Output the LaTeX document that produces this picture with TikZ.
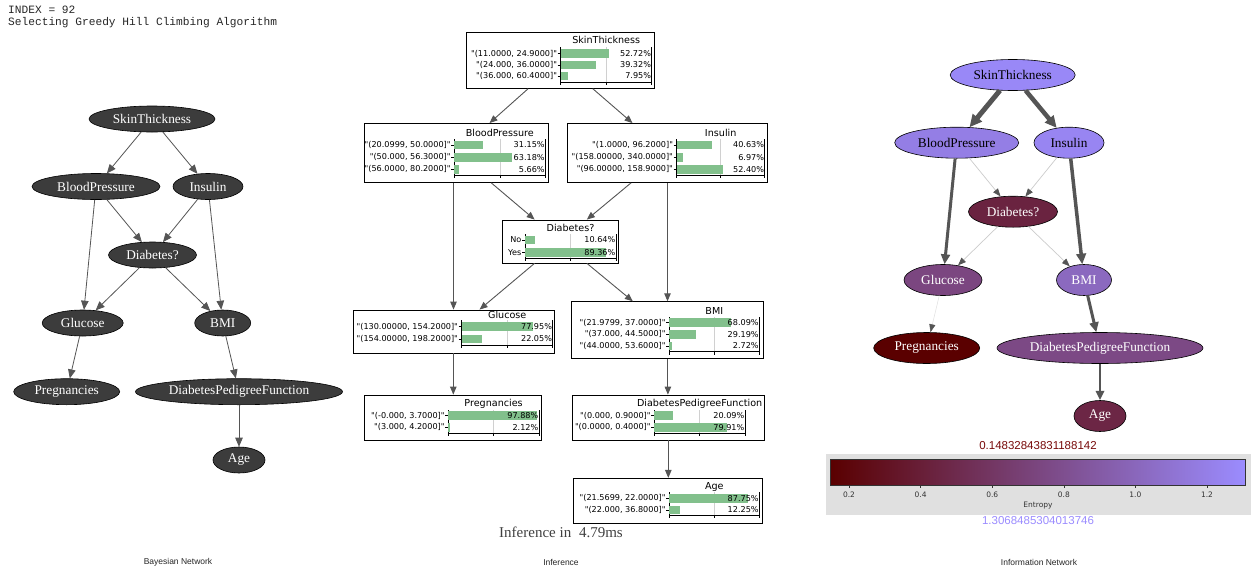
\documentclass[tikz,border=0pt]{standalone}
\usepackage{fontspec}
\setmainfont{Liberation Serif}
\newfontfamily\plotfont{DejaVu Sans}
\newfontfamily\captfont{Liberation Sans}
\newfontfamily\logfont{Liberation Mono}
\usepackage{tikz}
\usetikzlibrary{shapes.geometric, arrows.meta, calc, positioning}
\definecolor{netgray}{HTML}{3C3C3C}
\definecolor{edgegray}{HTML}{555555}
\definecolor{thingray}{HTML}{CCCCCC}
\definecolor{bargreen}{HTML}{82C08C}
\definecolor{gridgray}{HTML}{D0D0D0}
\definecolor{entlow}{RGB}{90,0,0}
\definecolor{enthigh}{RGB}{155,140,255}
\definecolor{cbarback}{HTML}{E0E0E0}
\definecolor{minred}{RGB}{120,10,10}

% one bar of a marginal: name, axis x, y, label, percent, axis width
\newcommand{\barrow}[6]{%
	\fill[bargreen] (#2,#3-4.3) rectangle ++(#5*#6/100,8.6);
	\draw[axisline] (#2-3,#3) -- (#2,#3);
	\node[plotlabel, anchor=east] (#1-l) at (#2-3.5,#3) {#4};
	\node[plotlabel, anchor=east] (#1-p) at (#2+#6-0.5,#3) {#5\%};
}
% frame of a marginal: axis x, top, bottom, axis width
\newcommand{\barframe}[4]{%
	\draw[gridgray, line width=0.6pt] (#1+#4/2,#2) -- (#1+#4/2,#3);
	\draw[axisline] (#1,#2) -- (#1,#3) -- (#1+#4,#3) -- (#1+#4,#2);
	\draw[axisline] (#1,#3) -- ++(0,3) (#1+#4/2,#3) -- ++(0,3) (#1+#4,#3) -- ++(0,3);
}

\begin{document}
\begin{tikzpicture}[x=1pt, y=-1pt,
	bnnode/.style={ellipse, draw=black, line width=0.6pt, fill=netgray, text=white, inner sep=0pt, minimum height=26pt, font=\fontsize{13.3}{15}\selectfont},
	bnedge/.style={draw=edgegray, line width=0.8pt, -{Triangle[length=9pt, width=7.5pt]}},
	margbox/.style={draw=black, line width=0.8pt, inner sep=0pt},
	margedge/.style={draw=edgegray, line width=0.9pt, -{Triangle[length=8pt, width=6.5pt]}},
	axisline/.style={draw=black, line width=0.6pt},
	plotlabel/.style={inner sep=0pt, font=\plotfont\fontsize{8.1}{9}\selectfont},
	plottitle/.style={inner sep=0pt, font=\plotfont\fontsize{9.6}{11}\selectfont},
	entnode/.style={ellipse, draw=black, line width=0.6pt, inner sep=0pt, minimum height=31pt, font=\fontsize{13.3}{15}\selectfont, fill=enthigh!#1!entlow},
	entstrong/.style={draw=edgegray, line width=#1, -{Triangle[length=6pt 1.3, width=5pt 1.3]}},
	entweak/.style={draw=thingray, line width=0.7pt, -{Triangle[length=8pt, width=6pt, color=edgegray]}},
	captext/.style={inner sep=0pt, font=\captfont\fontsize{8.5}{10}\selectfont, text=black!85},
	logtext/.style={anchor=west, inner sep=0pt, font=\logfont\fontsize{11.2}{13}\selectfont, text=black!85},
	cbtext/.style={inner sep=0pt, font=\plotfont\fontsize{7.5}{9}\selectfont, text=black!80}
]
\path[use as bounding box, fill=white] (0,0) rectangle (1251,568);

% log lines
\node[logtext] (idx) at (8,9.5) {INDEX = 92};
\node[logtext] (algo) at (8,22.5) {Selecting Greedy Hill Climbing Algorithm};

% Bayesian network
\node[bnnode, minimum width=126pt] (bst) at (152,119) {SkinThickness};
\node[bnnode, minimum width=128pt] (bbp) at (96,186.5) {BloodPressure};
\node[bnnode, minimum width=70pt] (bins) at (208,186.5) {Insulin};
\node[bnnode, minimum width=88pt] (bdia) at (152.5,255) {Diabetes?};
\node[bnnode, minimum width=81pt] (bglu) at (82.7,323) {Glucose};
\node[bnnode, minimum width=56pt] (bbmi) at (222.7,323) {BMI};
\node[bnnode, minimum width=106pt] (bpre) at (66.7,391.7) {Pregnancies};
\node[bnnode, minimum width=207pt] (bdpf) at (239,391.7) {DiabetesPedigreeFunction};
\node[bnnode, minimum width=52pt] (bage) at (239,460) {Age};
\draw[bnedge] (bst) -- (bbp);
\draw[bnedge] (bst) -- (bins);
\draw[bnedge] (bbp) -- (bdia);
\draw[bnedge] (bins) -- (bdia);
\draw[bnedge] (bbp) -- (bglu);
\draw[bnedge] (bins) -- (bbmi);
\draw[bnedge] (bdia) -- (bglu);
\draw[bnedge] (bdia) -- (bbmi);
\draw[bnedge] (bglu) -- (bpre);
\draw[bnedge] (bbmi) -- (bdpf);
\draw[bnedge] (bdpf) -- (bage);
\node[captext] (capbn) at (178,562) {Bayesian Network};

% inference boxes
\node[margbox, minimum width=188pt, minimum height=56pt] (st) at (560,60.3) {};
\node[margbox, minimum width=184pt, minimum height=59pt] (bp) at (456,153) {};
\node[margbox, minimum width=200pt, minimum height=59pt] (ins) at (667,153) {};
\node[margbox, minimum width=116pt, minimum height=43pt] (dia) at (560.5,241.5) {};
\node[margbox, minimum width=201pt, minimum height=43pt] (glu) at (453.5,331.5) {};
\node[margbox, minimum width=192pt, minimum height=56.6pt] (bmi) at (667.5,330) {};
\node[margbox, minimum width=177pt, minimum height=45pt] (pre) at (453.3,417.5) {};
\node[margbox, minimum width=192pt, minimum height=45pt] (dpf) at (667.9,417.5) {};
\node[margbox, minimum width=189pt, minimum height=45pt] (age) at (668.3,500.8) {};

\barframe{560.7}{47}{82}{91}
\node[plottitle] (st-t) at (606.2,40) {SkinThickness};
\barrow{st1}{560.7}{53.5}{"(11.0000, 24.9000]"}{52.72}{91}
\barrow{st2}{560.7}{64.8}{"(24.000, 36.0000]"}{39.32}{91}
\barrow{st3}{560.7}{76}{"(36.000, 60.4000]"}{7.95}{91}

\barframe{454.3}{139}{175}{91}
\node[plottitle] (bp-t) at (499.8,133) {BloodPressure};
\barrow{bp1}{454.3}{145}{"(20.0999, 50.0000]"}{31.15}{91}
\barrow{bp2}{454.3}{157.3}{"(50.000, 56.3000]"}{63.18}{91}
\barrow{bp3}{454.3}{169.3}{"(56.0000, 80.2000]"}{5.66}{91}

\barframe{676.7}{139}{175}{88}
\node[plottitle] (ins-t) at (720.7,133) {Insulin};
\barrow{ins1}{676.7}{145}{"(1.0000, 96.2000]"}{40.63}{88}
\barrow{ins2}{676.7}{157.3}{"(158.00000, 340.0000]"}{6.97}{88}
\barrow{ins3}{676.7}{169.3}{"(96.00000, 158.9000]"}{52.40}{88}

\barframe{525}{234}{258}{91}
\node[plottitle] (dia-t) at (570.5,228) {Diabetes?};
\barrow{dia1}{525}{240}{No}{10.64}{91}
\barrow{dia2}{525}{252.5}{Yes}{89.36}{91}

\barframe{461.7}{320}{345}{91}
\node[plottitle] (glu-t) at (507.2,315) {Glucose};
\barrow{glu1}{461.7}{326.5}{"(130.00000, 154.2000]"}{77.95}{91}
\barrow{glu2}{461.7}{339}{"(154.00000, 198.2000]"}{22.05}{91}

\barframe{669.3}{317}{351.5}{90}
\node[plottitle] (bmi-t) at (714.3,311) {BMI};
\barrow{bmi1}{669.3}{322.5}{"(21.9799, 37.0000]"}{68.09}{90}
\barrow{bmi2}{669.3}{334.2}{"(37.000, 44.5000]"}{29.19}{90}
\barrow{bmi3}{669.3}{345.9}{"(44.0000, 53.6000]"}{2.72}{90}

\barframe{448.3}{410}{433}{90.7}
\node[plottitle] (pre-t) at (493.6,404) {Pregnancies};
\barrow{pre1}{448.3}{415.7}{"(-0.000, 3.7000]"}{97.88}{90.7}
\barrow{pre2}{448.3}{427.3}{"(3.000, 4.2000]"}{2.12}{90.7}

\barframe{654.3}{410}{433}{90.7}
\node[plottitle] (dpf-t) at (699.6,404) {DiabetesPedigreeFunction};
\barrow{dpf1}{654.3}{415.7}{"(0.000, 0.9000]"}{20.09}{90.7}
\barrow{dpf2}{654.3}{427.3}{"(0.0000, 0.4000]"}{79.91}{90.7}

\barframe{669.3}{492}{515}{90}
\node[plottitle] (age-t) at (714.3,487) {Age};
\barrow{age1}{669.3}{498.3}{"(21.5699, 22.0000]"}{87.75}{90}
\barrow{age2}{669.3}{509.8}{"(22.000, 36.8000]"}{12.25}{90}

\draw[margedge] (st) -- (bp);
\draw[margedge] (st) -- (ins);
\draw[margedge] (bp) -- (dia);
\draw[margedge] (ins) -- (dia);
\draw[margedge] (bp.south -| glu.north) -- (glu.north);
\draw[margedge] (ins.south -| bmi.north) -- (bmi.north);
\draw[margedge] (dia) -- (glu);
\draw[margedge] (dia) -- (bmi);
\draw[margedge] (glu.south -| pre.north) -- (pre.north);
\draw[margedge] (bmi.south -| dpf.north) -- (dpf.north);
\draw[margedge] (dpf.south -| age.north) -- (age.north);
\node[font=\fontsize{15}{17}\selectfont, text=black!75] (inf) at (561,532.5) {Inference in\hspace{4pt} 4.79ms};
\node[captext] (capinf) at (561,562) {Inference};

% information network
\node[entnode=97, minimum width=125pt] (ist) at (1012.7,75) {SkinThickness};
\node[entnode=90, minimum width=124pt] (ibp) at (956.7,142.7) {BloodPressure};
\node[entnode=95, minimum width=70pt] (iins) at (1069,142.7) {Insulin};
\node[entnode=25, minimum width=89pt, text=white] (idia) at (1013,211.7) {Diabetes?};
\node[entnode=50, minimum width=78pt, text=white] (iglu) at (943,280) {Glucose};
\node[entnode=75, minimum width=55pt, text=white] (ibmi) at (1084,280) {BMI};
\node[entnode=0, minimum width=106pt, text=white] (ipre) at (926.7,348) {Pregnancies};
\node[entnode=52, minimum width=206pt, text=white] (idpf) at (1100,348) {DiabetesPedigreeFunction};
\node[entnode=27, minimum width=52pt, text=white] (iage) at (1100,416) {Age};
\draw[entstrong=5pt] (ist) -- (ibp);
\draw[entstrong=4.5pt] (ist) -- (iins);
\draw[entweak] (ibp) -- (idia);
\draw[entweak] (iins) -- (idia);
\draw[entstrong=3pt] (ibp) -- (iglu);
\draw[entstrong=3.5pt] (iins) -- (ibmi);
\draw[entweak] (idia) -- (iglu);
\draw[entweak] (idia) -- (ibmi);
\draw[entweak, draw=thingray!60, line width=0.5pt] (iglu) -- (ipre);
\draw[entstrong=3pt] (ibmi) -- (idpf);
\draw[entstrong=2.5pt] (idpf) -- (iage);

% entropy colour bar
\fill[cbarback] (826,454) rectangle (1251,515);
\shade[left color=entlow, right color=enthigh] (830.5,459.3) rectangle (1245.3,485);
\draw[line width=0.6pt, black!80] (830.5,459.3) rectangle (1245.3,485);
\foreach \v [count=\i] in {0.2,0.4,0.6,0.8,1.0,1.2} {
	\draw[line width=0.5pt, black!80] ({830.5+(\v-0.1483)*358},485) -- ++(0,3);
	\node[cbtext] (cbt\i) at ({830.5+(\v-0.1483)*358},494.3) {\v};
}
\node[cbtext] (cblab) at (1038,506) {Entropy};
\node[inner sep=0pt, font=\captfont\fontsize{11.5}{13}\selectfont, text=minred] (cbmin) at (1038,446) {0.14832843831188142};
\node[inner sep=0pt, font=\captfont\fontsize{11.5}{13}\selectfont, text=enthigh] (cbmax) at (1038,520.7) {1.3068485304013746};
\node[captext] (capin) at (1039,562) {Information Network};
\end{tikzpicture}
\end{document}
